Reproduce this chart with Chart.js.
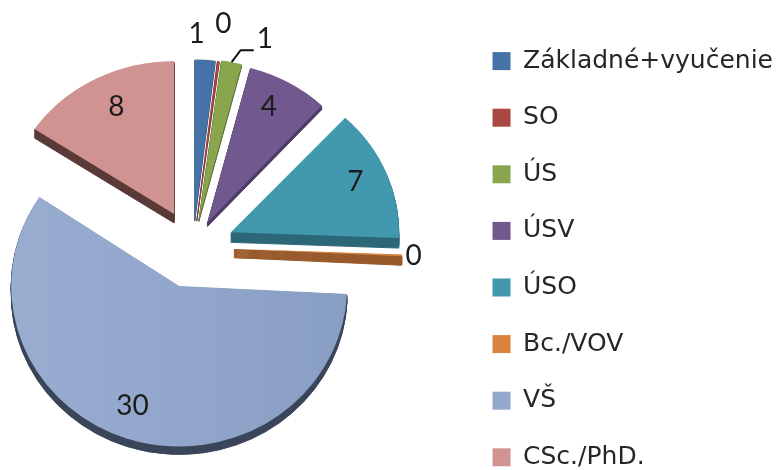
<!DOCTYPE html>
<html>
<head>
<meta charset="utf-8">
<title>Vzdelanie</title>
<script src="https://cdn.jsdelivr.net/npm/chart.js@4"></script>
<style>
  html, body { margin: 0; padding: 0; background: #fff; overflow: hidden; }
  #wrap { width: 777px; height: 470px; overflow: hidden; }
</style>
</head>
<body>
<div id="wrap"><canvas id="pieChart" width="777" height="540"></canvas></div>
<script>
// chart data
const categories = ['Základné+vyučenie', 'SO', 'ÚS', 'ÚSV', 'ÚSO', 'Bc./VOV', 'VŠ', 'CSc./PhD.'];
const values = [1, 0.1, 1, 4, 7, 0.1, 30, 8];   // the two "0" slices are thin slivers in the picture

// colours
const faceColors = ['#4572A7', '#AA4643', '#89A54E', '#71588F', '#4198AF', '#DB843D', '#93A9CF', '#D19392'];
const sideColors = ['#2F4E73', '#74302E', '#5E7136', '#4D3C62', '#2D6878', '#98592A', '#3A4659', '#5A3B3A'];

// how far each slice is pulled out of the pie, px
const explode = [29, 29, 30, 30, 41, 41, 44, 40];
// vertical squash and rim height per slice (the near side of the picture is a bit bigger)
const sliceTilt = [0.955, 0.955, 0.955, 0.95, 0.93, 0.93, 0.955, 0.91];
const sliceDepth = [1, 1, 2, 4, 10, 9, 8, 9];

// where the value labels go: r = fraction of radius from slice tip, turn = degrees off the slice middle
const labelSpots = [
  { r: 1.16, turn: -3 },
  { r: 1.23, turn: 0 },
  { r: 1.19, turn: 8 },
  { r: 0.81, turn: -2 },
  { r: 0.808, turn: -1 },
  { r: 1.07, turn: 0 },
  { r: 0.8, turn: 2 },
  { r: 0.78, turn: 2 }
];

const PIE_X = 193, PIE_Y = 247, TILT = 0.935;

// 3D look: squash the pie, draw a darker copy of each slice below it, then the face
const tiltedPie = {
  id: 'tiltedPie',
  beforeDatasetsDraw(chart) {
    const ctx = chart.ctx;
    const arcs = chart.getDatasetMeta(0).data;

    const placeArc = (arc, i, drop) => {
      const mid = (arc.startAngle + arc.endAngle) / 2;
      ctx.translate(PIE_X + Math.cos(mid) * explode[i], PIE_Y + Math.sin(mid) * explode[i] * TILT + drop);
      ctx.scale(1, sliceTilt[i]);
      ctx.translate(-arc.x, -arc.y);
    };
    const plainOptions = (color, border) => ({
      backgroundColor: color, borderWidth: border, borderColor: color,
      offset: 0, spacing: 0, borderRadius: 0, circular: true, borderAlign: 'center'
    });

    arcs.forEach((arc, i) => {
      const face = arc.options;
      for (let d = sliceDepth[i]; d > 0; d--) {
        ctx.save();
        placeArc(arc, i, d);
        arc.options = plainOptions(sideColors[i], 1);
        arc.draw(ctx);
        arc.options = face;
        ctx.restore();
      }
    });
    arcs.forEach((arc, i) => {
      const face = arc.options;
      ctx.save();
      placeArc(arc, i, 0);
      if (categories[i] === 'VŠ') {
        // the big slice gets slightly greyer towards the right
        const shade = ctx.createLinearGradient(arc.x - 168, 0, arc.x + 168, 0);
        shade.addColorStop(0, '#99ADD1');
        shade.addColorStop(0.5, '#91A6CA');
        shade.addColorStop(1, '#899EC3');
        arc.options = plainOptions(shade, 0);
      }
      arc.draw(ctx);
      arc.options = face;
      ctx.restore();
    });

    // value labels
    ctx.save();
    ctx.font = '28px Lato';
    ctx.fillStyle = '#1c1c1c';
    ctx.textAlign = 'center';
    ctx.textBaseline = 'middle';
    arcs.forEach((arc, i) => {
      const mid = (arc.startAngle + arc.endAngle) / 2;
      const a = mid + labelSpots[i].turn * Math.PI / 180;
      const dist = arc.outerRadius * labelSpots[i].r;
      const tipX = PIE_X + Math.cos(mid) * explode[i];
      const tipY = PIE_Y + Math.sin(mid) * explode[i] * TILT;
      const x = tipX + Math.cos(a) * dist;
      const y = tipY + Math.sin(a) * dist * sliceTilt[i];
      ctx.fillText(String(Math.round(values[i])), x, y);
      if (i === 2) {
        // leader line of the green slice
        const rimX = tipX + Math.cos(mid) * arc.outerRadius;
        const rimY = tipY + Math.sin(mid) * arc.outerRadius * sliceTilt[i];
        ctx.strokeStyle = '#111';
        ctx.lineWidth = 2;
        ctx.beginPath();
        ctx.moveTo(rimX, rimY);
        ctx.lineTo(rimX + 9, rimY - 12);
        ctx.lineTo(x - 11, rimY - 12);
        ctx.stroke();
      }
    });
    ctx.restore();
    return false;
  }
};

new Chart(document.getElementById('pieChart'), {
  type: 'pie',
  data: {
    labels: categories,
    datasets: [{ data: values, backgroundColor: faceColors, borderWidth: 0, hoverOffset: 0 }]
  },
  options: {
    responsive: false,
    animation: false,
    radius: 168,
    layout: { padding: { top: 17, right: -6 } },
    plugins: {
      tooltip: { enabled: false },
      legend: {
        position: 'right',
        align: 'start',
        labels: {
          boxWidth: 18,
          boxHeight: 18,
          padding: 31.6,
          color: '#262626',
          font: { family: 'DejaVu Sans', size: 25 }
        }
      }
    }
  },
  plugins: [tiltedPie]
});
</script>
</body>
</html>
